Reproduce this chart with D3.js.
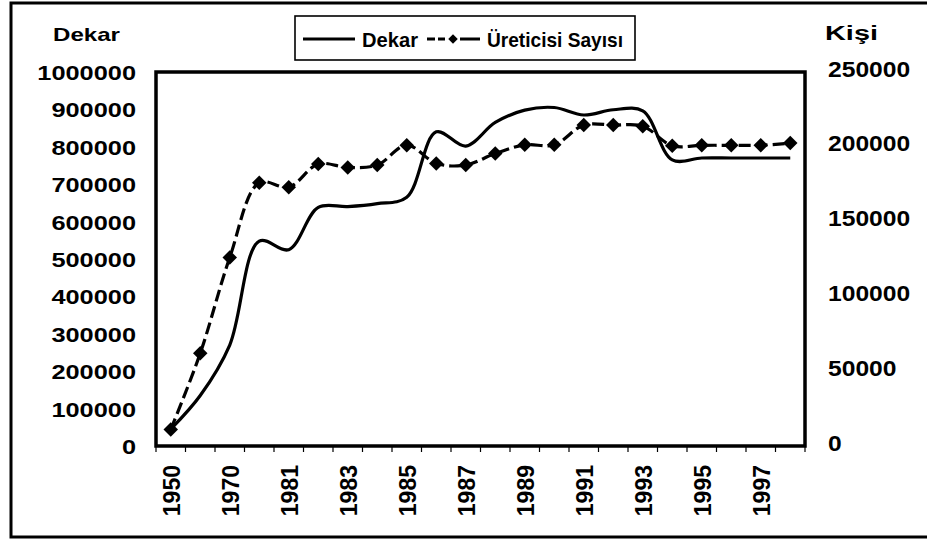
<!DOCTYPE html>
<html>
<head>
<meta charset="utf-8">
<script src="https://cdn.jsdelivr.net/npm/d3@7/dist/d3.min.js"></script>
<style>
  html, body { margin: 0; padding: 0; background: #fff; }
  svg { display: block; }
  text { font-family: "Liberation Sans", Arial, sans-serif; font-weight: bold; fill: #000; }
</style>
</head>
<body>
<svg id="chart" width="927" height="540"></svg>
<script>
// ---- data ----
const categories = ["1950","1960","1970","1980","1981","1982","1983","1984","1985","1986","1987",
                    "1988","1989","1990","1991","1992","1993","1994","1995","1996","1997","1998"];
const dekar = [45000,135000,270000,548000,525000,638000,640000,648000,665000,840000,802000,
               865000,898000,905000,885000,899000,896000,765000,770000,770000,770000,770000];
const ureticisi = [11000,62000,126000,176000,173000,188500,186200,187800,201100,188900,187800,
                   195500,201300,201300,214500,214500,213800,200700,201000,201000,201000,202500];
const leftTicks = [0,100000,200000,300000,400000,500000,600000,700000,800000,900000,1000000];
const rightTicks = [0,50000,100000,150000,200000,250000];
const tickLabels = ["1950","1970","1981","1983","1985","1987","1989","1991","1993","1995","1997"];
const leftTitle = "Dekar";
const rightTitle = "Kişi";
const seriesNames = ["Dekar", "Üreticisi Sayısı"];

// ---- layout ----
const svg = d3.select("#chart");
const plot = {left: 156, right: 805, top: 72, bottom: 446};

const x = d3.scaleBand().domain(categories).range([plot.left, plot.right]).padding(0);
const yL = d3.scaleLinear().domain([0, 1000000]).range([plot.bottom, plot.top]);
const yR = d3.scaleLinear().domain([0, 250000]).range([plot.bottom, plot.top]);
const cx = c => x(c) + x.bandwidth() / 2;

// outer frame
svg.append("rect").attr("x", 11).attr("y", 3).attr("width", 940).attr("height", 534)
  .attr("fill", "none").attr("stroke", "#000").attr("stroke-width", 3);

// plot border
svg.append("rect").attr("x", plot.left).attr("y", plot.top)
  .attr("width", plot.right - plot.left).attr("height", plot.bottom - plot.top)
  .attr("fill", "#fff").attr("stroke", "#000").attr("stroke-width", 3.5);

// x axis ticks (category boundaries)
const xAxis = d3.axisBottom(x).tickSize(0).tickFormat("");
const gx = svg.append("g").attr("transform", `translate(0,${plot.bottom})`).call(xAxis);
gx.select(".domain").remove();
const bounds = categories.map(c => x(c)).concat([plot.right]);
svg.append("g").selectAll("line").data(bounds).join("line")
  .attr("x1", d => d).attr("x2", d => d)
  .attr("y1", plot.bottom).attr("y2", plot.bottom + 6)
  .attr("stroke", "#000").attr("stroke-width", 1.2);

// x labels (rotated)
svg.append("g").selectAll("text").data(tickLabels).join("text")
  .attr("transform", d => `translate(${cx(d) + 1},${plot.bottom + 19}) rotate(-90)`)
  .attr("text-anchor", "end")
  .attr("dominant-baseline", "central")
  .attr("font-size", 23)
  .text(d => d);

// left axis labels
svg.append("g").selectAll("text").data(leftTicks).join("text")
  .attr("x", d => 136 - String(d).length * 14.1)
  .attr("y", d => yL(d) + 1)
  .attr("dominant-baseline", "central")
  .attr("font-size", 20)
  .attr("textLength", d => String(d).length * 14.1)
  .attr("lengthAdjust", "spacingAndGlyphs")
  .text(d => d);

// right axis labels
svg.append("g").selectAll("text").data(rightTicks).join("text")
  .attr("x", 828)
  .attr("y", d => yR(d) - 3)
  .attr("dominant-baseline", "central")
  .attr("font-size", 22)
  .attr("textLength", d => String(d).length * 13.7)
  .attr("lengthAdjust", "spacingAndGlyphs")
  .text(d => d);

// axis titles
svg.append("text").attr("x", 53).attr("y", 41).attr("font-size", 19)
  .attr("textLength", 67).attr("lengthAdjust", "spacingAndGlyphs").text(leftTitle);
svg.append("text").attr("x", 825).attr("y", 40).attr("font-size", 20)
  .attr("textLength", 53).attr("lengthAdjust", "spacingAndGlyphs").text(rightTitle);

// series
const curve = d3.curveCatmullRom.alpha(0.5);
const lineL = d3.line().x((d, i) => cx(categories[i])).y(d => yL(d)).curve(curve);
const lineR = d3.line().x((d, i) => cx(categories[i])).y(d => yR(d)).curve(curve);

svg.append("path").attr("d", lineR(ureticisi)).attr("fill", "none")
  .attr("stroke", "#000").attr("stroke-width", 3.2).attr("stroke-dasharray", "12,5");

svg.append("path").attr("d", lineL(dekar)).attr("fill", "none")
  .attr("stroke", "#000").attr("stroke-width", 3.2);

const diamond = d3.symbol().type(d3.symbolSquare).size(105);
svg.append("g").selectAll("path").data(ureticisi).join("path")
  .attr("d", diamond)
  .attr("transform", (d, i) => `translate(${cx(categories[i])},${yR(d)}) rotate(45)`)
  .attr("fill", "#000");

// legend
const lg = svg.append("g");
lg.append("rect").attr("x", 295).attr("y", 16).attr("width", 340).attr("height", 44)
  .attr("fill", "#fff").attr("stroke", "#000").attr("stroke-width", 1.6);
lg.append("line").attr("x1", 303).attr("x2", 355).attr("y1", 39).attr("y2", 39)
  .attr("stroke", "#000").attr("stroke-width", 3);
lg.append("text").attr("x", 362).attr("y", 47).attr("font-size", 21)
  .style("font-family", "'Liberation Sans Narrow', 'Liberation Sans', Arial, sans-serif")
  .attr("textLength", 56).attr("lengthAdjust", "spacingAndGlyphs").text(seriesNames[0]);
lg.append("line").attr("x1", 427).attr("x2", 445).attr("y1", 39).attr("y2", 39)
  .attr("stroke", "#000").attr("stroke-width", 3).attr("stroke-dasharray", "8,3");
lg.append("line").attr("x1", 460).attr("x2", 480).attr("y1", 39).attr("y2", 39)
  .attr("stroke", "#000").attr("stroke-width", 3);
lg.append("path").attr("d", d3.symbol().type(d3.symbolSquare).size(45))
  .attr("transform", "translate(453,39) rotate(45)").attr("fill", "#000");
lg.append("text").attr("x", 487).attr("y", 47).attr("font-size", 21)
  .style("font-family", "'Liberation Sans Narrow', 'Liberation Sans', Arial, sans-serif")
  .attr("textLength", 136).attr("lengthAdjust", "spacingAndGlyphs").text(seriesNames[1]);
</script>
</body>
</html>
